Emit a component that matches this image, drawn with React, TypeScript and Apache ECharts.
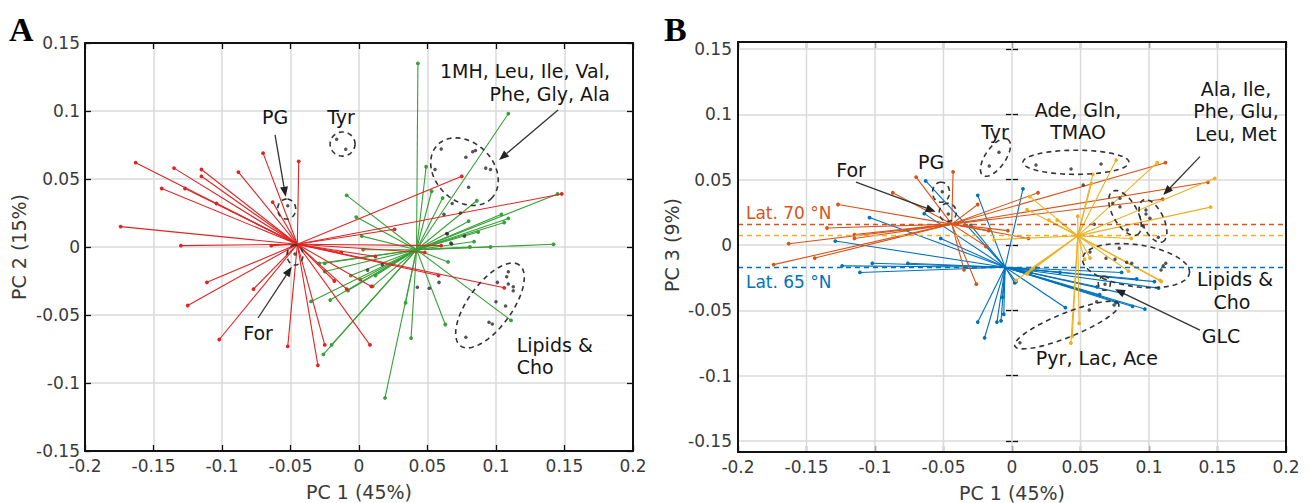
import React, { useEffect, useRef } from "react";
import * as echarts from "echarts";

// ---------------- Panel A data (PC1 vs PC2) ----------------
const redCenter = [-0.045, 0.002];
const redPts: number[][] = [
  [-0.163, 0.062], [-0.135, 0.058], [-0.115, 0.057], [-0.115, 0.052], [-0.088, 0.055],
  [-0.07, 0.069], [-0.044, 0.063], [-0.144, 0.043], [-0.127, 0.043], [-0.104, 0.032],
  [-0.063, 0.033], [-0.174, 0.015], [-0.13, 0.001], [-0.064, 0.001], [-0.111, -0.026],
  [-0.125, -0.043], [-0.077, -0.031], [-0.102, -0.068], [-0.052, -0.073], [-0.03, -0.087],
  [-0.025, -0.072], [-0.018, -0.025], [-0.009, -0.031], [-0.013, -0.004], [0.075, 0.052],
  [0.026, 0.013], [0.148, 0.039], [0.06, 0.001], [0.048, -0.004], [0.012, -0.007],
  [0.058, -0.021], [0.106, -0.03], [0.009, -0.029], [0.008, -0.072],
];
const greenCenter = [0.042, -0.002];
const greenPts: number[][] = [
  [0.043, 0.135], [0.109, 0.098], [0.049, 0.059], [0.053, 0.041], [0.061, 0.036],
  [0.086, 0.034], [0.145, 0.039], [0.104, 0.024], [0.109, 0.021], [0.106, 0.018],
  [0.08, 0.019], [0.087, 0.011], [0.084, 0.004], [0.142, 0.002], [-0.009, 0.038],
  [-0.002, 0.022], [0.002, 0.008], [0.081, 0.0], [0.096, 0.0], [0.003, -0.002],
  [-0.029, -0.012], [-0.025, -0.012], [-0.025, -0.018], [-0.006, -0.021], [0.012, -0.021],
  [0.001, -0.024], [0.01, -0.029], [-0.008, -0.032], [-0.021, -0.039], [-0.035, -0.04],
  [-0.02, -0.072], [-0.026, -0.079], [0.034, -0.041], [0.038, -0.067], [0.065, -0.011],
  [0.063, -0.057], [0.111, -0.054], [0.019, -0.111],
];
const blackDotsA: number[][] = [
  [0.06, 0.072], [0.078, 0.066], [0.083, 0.07], [0.085, 0.071], [0.0925, 0.058], [0.096, 0.057],
  [0.08, 0.044], [0.0555, 0.057], [0.068, 0.032], [0.074, 0.025], [0.062, 0.024], [0.064, 0.01],
  [0.067, 0.003], [0.077, 0.008],
  [-0.0163, 0.0792], [-0.0097, 0.0718], [-0.052, 0.0304], [-0.0467, -0.0051],
  [0.109, -0.0182], [0.1078, -0.0218], [0.101, -0.026], [0.109, -0.0272], [0.1126, -0.0292],
  [0.1126, -0.0321], [0.1, -0.0402], [0.107, -0.0434], [0.0949, -0.0554], [0.0973, -0.0566],
  [0.078, -0.0664],
  [0.0426, -0.0296], [0.0513, -0.0304], [0.0584, -0.026], [0.0063, -0.017], [0.017, -0.013],
  [0.0645, 0.0096], [0.0676, 0.0022],
];
// ellipse: [cx, cy, semi-major, semi-minor (x-data units), angle deg]
const ellipsesA: number[][] = [
  [0.077, 0.0554, 0.0277, 0.0212, -45],
  [-0.012, 0.0757, 0.0091, 0.0088, 0],
  [-0.0528, 0.0279, 0.0073, 0.0066, 90],
  [-0.0467, -0.0059, 0.0073, 0.0058, 90],
  [0.0956, -0.043, 0.0365, 0.016, 54],
];
const labelsA = [
  { text: "1MH, Leu, Ile, Val,", x: 0.1832, y: 0.1293, align: "right" },
  { text: "Phe, Gly, Ala", x: 0.1832, y: 0.1128, align: "right" },
  { text: "PG", x: -0.0613, y: 0.0956, align: "center" },
  { text: "Tyr", x: -0.0131, y: 0.0956, align: "center" },
  { text: "For", x: -0.0737, y: -0.0632, align: "center" },
  { text: "Lipids &", x: 0.1151, y: -0.0719, align: "left" },
  { text: "Cho", x: 0.1151, y: -0.0882, align: "left" },
];
// arrow: [x1, y1, x2 (head), y2 (head)]
const arrowsA: number[][] = [
  [0.1453, 0.1007, 0.1022, 0.064],
  [-0.0613, 0.0824, -0.0535, 0.037],
  [-0.0737, -0.0522, -0.0491, -0.0145],
];

// ---------------- Panel B data (PC1 vs PC3) ----------------
const orangeCenter = [-0.044, 0.016];
const orangePts: number[][] = [
  [-0.127, 0.031], [-0.087, 0.04], [-0.07, 0.052], [-0.043, 0.056], [-0.025, 0.031],
  [-0.135, 0.013], [-0.115, 0.008], [-0.115, 0.005], [-0.163, 0.001], [-0.174, -0.015],
  [-0.144, -0.01], [-0.035, -0.019], [-0.026, -0.03], [-0.019, -0.001], [0.019, 0.04],
  [-0.017, 0.011], [-0.003, 0.011], [0.012, 0.005], [0.112, 0.063], [0.143, 0.048],
  [0.11, 0.035],
];
const blueCenter = [-0.005, -0.017];
const bluePts: number[][] = [
  [-0.063, 0.049], [-0.025, 0.038], [-0.064, 0.024], [-0.104, 0.021], [-0.129, 0.003],
  [-0.052, 0.005], [-0.124, -0.016], [-0.102, -0.014], [-0.076, -0.014], [-0.111, -0.021],
  [-0.025, -0.059], [-0.02, -0.071], [-0.008, -0.058], [-0.007, -0.04], [0.008, 0.043],
  [-0.019, -0.001], [-0.03, 0.015], [0.039, -0.048], [-0.011, -0.059], [-0.006, -0.053],
  [0.003, -0.028], [0.01, -0.021], [0.097, -0.049], [0.088, -0.047], [0.076, -0.044],
  [0.064, -0.038], [0.104, -0.028], [0.107, -0.033], [0.091, -0.026], [0.08, -0.021],
  [0.062, -0.032], [0.035, -0.021], [0.014, -0.021], [0.002, -0.029], [0.081, -0.037],
];
const yellowCenter = [0.048, 0.007];
const yellowPts: number[][] = [
  [0.076, 0.065], [0.106, 0.063], [0.148, 0.051], [0.145, 0.029], [0.059, 0.054],
  [0.058, 0.047], [0.048, 0.022], [0.013, 0.037], [0.011, 0.027], [0.027, 0.019],
  [0.087, 0.005], [0.057, -0.01], [0.085, -0.02], [0.108, -0.027], [0.049, -0.06],
  [0.044, -0.07], [0.033, 0.019], [0.109, -0.028], [0.053, -0.011], [0.043, -0.075],
  [0.003, -0.027], [0.014, -0.018], [0.011, -0.022], [-0.013, 0.004],
];
const blackDotsB: number[][] = [
  [0.0175, 0.0613], [0.0431, 0.0582], [0.065, 0.062],
  [-0.0095, 0.071], [-0.0166, 0.0605], [-0.0509, 0.0408], [-0.0465, 0.0237],
  [0.0788, 0.0358], [0.0788, 0.0293], [0.0735, 0.0319], [0.0978, 0.0268], [0.0978, 0.0237],
  [0.1007, 0.0204], [0.1068, 0.0059], [0.0958, 0.0145], [0.0842, 0.0115],
  [0.0686, -0.0102], [0.0752, -0.0109], [0.0837, -0.0132], [0.0874, -0.014], [0.1104, -0.0158],
  [0.1088, -0.0191], [0.1122, -0.014], [0.0569, -0.0054],
  [0.0679, -0.0301],
  [0.0058, -0.0748], [0.0564, -0.0498], [0.0618, -0.0434], [0.0745, -0.0459],
  [0.052, 0.0459], [0.0601, 0.0158], [0.0783, -0.0025],
];
const ellipsesB: number[][] = [
  [-0.0121, 0.067, 0.016, 0.0073, 55],
  [0.0467, 0.0633, 0.0387, 0.0088, 0],
  [-0.0518, 0.0404, 0.0073, 0.0062, 90],
  [-0.0469, 0.025, 0.0066, 0.0062, 90],
  [0.0825, 0.0245, 0.0182, 0.0088, -60],
  [0.1029, 0.0184, 0.0168, 0.008, -65],
  [0.0905, -0.0158, 0.0394, 0.0153, -8],
  [0.0674, -0.0293, 0.0051, 0.0044, 90],
  [0.04, -0.0613, 0.0409, 0.0088, 22],
];
const latValues = [0.0158, 0.0071, -0.0168]; // Lat. 70 °N, (yellow), Lat. 65 °N
const labelsB = [
  { text: "For", x: -0.1175, y: 0.0574, align: "center" },
  { text: "PG", x: -0.0591, y: 0.0633, align: "center" },
  { text: "Tyr", x: -0.0124, y: 0.0868, align: "center" },
  { text: "Ade, Gln,", x: 0.0482, y: 0.1034, align: "center" },
  { text: "TMAO", x: 0.0482, y: 0.0866, align: "center" },
  { text: "Ala, Ile,", x: 0.1635, y: 0.1192, align: "center" },
  { text: "Phe, Glu,", x: 0.1635, y: 0.1022, align: "center" },
  { text: "Leu, Met", x: 0.1635, y: 0.0852, align: "center" },
  { text: "Lipids &", x: 0.1628, y: -0.0264, align: "center" },
  { text: "Cho", x: 0.1606, y: -0.0436, align: "center" },
  { text: "GLC", x: 0.1526, y: -0.0697, align: "center" },
  { text: "Pyr, Lac, Ace", x: 0.062, y: -0.0868, align: "center" },
  { text: "Lat. 70 °N", x: -0.1942, y: 0.0247, align: "left", color: "#D95319", small: true },
  { text: "Lat. 65 °N", x: -0.1942, y: -0.0281, align: "left", color: "#0072BD", small: true },
];
const arrowsB: number[][] = [
  [-0.1139, 0.0482, -0.0557, 0.0255],
  [0.1372, 0.0676, 0.1104, 0.0383],
  [0.1372, -0.0651, 0.0752, -0.0339],
];

const xTicks = [-0.2, -0.15, -0.1, -0.05, 0, 0.05, 0.1, 0.15, 0.2];

const RED = "#e02424";
const GREEN = "#36a136";
const ORANGE = "#D95319";
const BLUE = "#0072BD";
const YELLOW = "#EDB120";
const FONT = '"DejaVu Sans", Verdana, sans-serif';
const ANN_FONT = '19px "DejaVu Sans", Verdana, sans-serif';
const LAT_FONT = '17px "DejaVu Sans", Verdana, sans-serif';

const fmt = (v: number) => String(Math.round(v * 100) / 100);

function starSeries(center: number[], pts: number[][], color: string, xi: number, yi: number, z: number) {
  return {
    type: "custom",
    xAxisIndex: xi,
    yAxisIndex: yi,
    z,
    data: pts,
    encode: { x: 0, y: 1 },
    renderItem: (params: any, api: any) => {
      const c = api.coord(center);
      const p = api.coord([api.value(0), api.value(1)]);
      return {
        type: "group",
        children: [
          { type: "line", shape: { x1: c[0], y1: c[1], x2: p[0], y2: p[1] }, style: { stroke: color, lineWidth: 1.1 } },
          { type: "circle", shape: { cx: p[0], cy: p[1], r: 1.9 }, style: { fill: color } },
        ],
      };
    },
  };
}

function dotSeries(pts: number[][], xi: number, yi: number) {
  return {
    type: "scatter",
    xAxisIndex: xi,
    yAxisIndex: yi,
    z: 4,
    symbolSize: 3.5,
    itemStyle: { color: "#2a2a2a" },
    data: pts,
  };
}

function ellipseSeries(list: number[][], xi: number, yi: number) {
  return {
    type: "custom",
    xAxisIndex: xi,
    yAxisIndex: yi,
    z: 5,
    data: list.map((e) => [e[0], e[1]]),
    encode: { x: 0, y: 1 },
    renderItem: (params: any, api: any) => {
      const e = list[params.dataIndex];
      const c = api.coord([e[0], e[1]]);
      const a = api.size([e[2], 0])[0];
      const b = api.size([e[3], 0])[0];
      const t = (e[4] * Math.PI) / 180;
      const pts: number[][] = [];
      const n = 90;
      for (let i = 0; i <= n; i++) {
        const phi = (2 * Math.PI * i) / n;
        const dx = a * Math.cos(phi);
        const dy = b * Math.sin(phi);
        pts.push([c[0] + dx * Math.cos(t) - dy * Math.sin(t), c[1] - (dx * Math.sin(t) + dy * Math.cos(t))]);
      }
      return {
        type: "polyline",
        shape: { points: pts },
        style: { stroke: "#333", lineWidth: 1.6, lineDash: [5, 4], fill: "none" },
      };
    },
  };
}

function labelSeries(list: any[], xi: number, yi: number) {
  return {
    type: "custom",
    xAxisIndex: xi,
    yAxisIndex: yi,
    z: 7,
    data: list.map((l) => [l.x, l.y]),
    encode: { x: 0, y: 1 },
    renderItem: (params: any, api: any) => {
      const l = list[params.dataIndex];
      const p = api.coord([l.x, l.y]);
      return {
        type: "text",
        x: p[0],
        y: p[1],
        style: {
          text: l.text,
          fill: l.color || "#151515",
          font: l.small ? LAT_FONT : ANN_FONT,
          align: l.align,
          verticalAlign: "middle",
        },
      };
    },
  };
}

function arrowSeries(list: number[][], xi: number, yi: number) {
  return {
    type: "custom",
    xAxisIndex: xi,
    yAxisIndex: yi,
    z: 8,
    data: list,
    encode: { x: 0, y: 1 },
    renderItem: (params: any, api: any) => {
      const p1 = api.coord([api.value(0), api.value(1)]);
      const p2 = api.coord([api.value(2), api.value(3)]);
      const dx = p2[0] - p1[0];
      const dy = p2[1] - p1[1];
      const L = Math.hypot(dx, dy) || 1;
      const ux = dx / L;
      const uy = dy / L;
      const hl = 10;
      const hw = 4;
      const bx = p2[0] - ux * hl;
      const by = p2[1] - uy * hl;
      return {
        type: "group",
        children: [
          { type: "line", shape: { x1: p1[0], y1: p1[1], x2: bx, y2: by }, style: { stroke: "#333", lineWidth: 1.3 } },
          {
            type: "polygon",
            shape: { points: [[p2[0], p2[1]], [bx - uy * hw, by + ux * hw], [bx + uy * hw, by - ux * hw]] },
            style: { fill: "#222" },
          },
        ],
      };
    },
  };
}

function gridExtSeries(xi: number, yi: number) {
  return {
    type: "custom",
    xAxisIndex: xi,
    yAxisIndex: yi,
    z: 1,
    silent: true,
    data: xTicks.map((v) => [v, 0]),
    encode: { x: 0, y: 1 },
    renderItem: (params: any, api: any) => {
      const p = api.coord([api.value(0), 0]);
      const cs = params.coordSys;
      return {
        type: "line",
        shape: { x1: p[0], y1: cs.y - 7, x2: p[0], y2: cs.y + cs.height + 11 },
        style: { stroke: "#dadada", lineWidth: 1.5 },
      };
    },
  };
}

export default function App() {
  const ref = useRef<HTMLDivElement>(null);
  useEffect(() => {
    if (!ref.current) return;
    const chart = echarts.init(ref.current, null, { renderer: "svg" });
    const tick = { show: true, inside: true, length: 6, lineStyle: { color: "#111", width: 1.3 } };
    const axisLine = { show: true, onZero: false, lineStyle: { color: "#111", width: 2 } };
    const split = { show: true, lineStyle: { color: "#dadada", width: 1.5 } };
    const label = { color: "#3a3a3a", fontSize: 17, fontFamily: FONT, formatter: fmt };
    const nameStyle = { color: "#3a3a3a", fontSize: 19, fontFamily: FONT };
    const xBase = { type: "value", min: -0.2, max: 0.2, interval: 0.05 };
    const yBase = { type: "value", min: -0.15, max: 0.15, interval: 0.05 };

    const option: any = {
      animation: false,
      backgroundColor: "#fff",
      grid: [
        { left: 85, top: 43, width: 548, height: 408, outerBoundsMode: "none" },
        { left: 738, top: 49, width: 548, height: 392, outerBoundsMode: "none" },
      ],
      xAxis: [
        {
          ...xBase, gridIndex: 0, position: "bottom", axisLine, axisTick: tick,
          axisLabel: { ...label, margin: 6 }, splitLine: split,
          name: "PC 1 (45%)", nameLocation: "middle", nameGap: 31, nameTextStyle: nameStyle,
        },
        { ...xBase, gridIndex: 0, position: "top", axisLine, axisTick: tick, axisLabel: { show: false }, splitLine: { show: false } },
        {
          ...xBase, gridIndex: 1, position: "bottom", offset: 11, axisLine, axisTick: tick,
          axisLabel: { ...label, margin: 6 }, splitLine: { show: false },
          name: "PC 1 (45%)", nameLocation: "middle", nameGap: 31, nameTextStyle: nameStyle,
        },
        { ...xBase, gridIndex: 1, position: "top", offset: 7, axisLine, axisTick: tick, axisLabel: { show: false }, splitLine: { show: false } },
      ],
      yAxis: [
        {
          ...yBase, gridIndex: 0, position: "left", axisLine, axisTick: tick,
          axisLabel: { ...label, margin: 5 }, splitLine: split,
          name: "PC 2 (15%)", nameLocation: "middle", nameGap: 57, nameTextStyle: nameStyle,
        },
        { ...yBase, gridIndex: 0, position: "right", axisLine, axisTick: tick, axisLabel: { show: false }, splitLine: { show: false } },
        {
          ...yBase, gridIndex: 1, position: "left", axisLine: { show: false }, axisTick: tick,
          axisLabel: { ...label, margin: 6 }, splitLine: split,
          name: "PC 3 (9%)", nameLocation: "middle", nameGap: 57, nameTextStyle: nameStyle,
        },
        { ...yBase, gridIndex: 1, position: "right", axisLine: { show: false }, axisTick: tick, axisLabel: { show: false }, splitLine: { show: false } },
      ],
      graphic: [
        { type: "rect", z: 100, shape: { x: 738, y: 42, width: 548, height: 410 }, style: { fill: "none", stroke: "#111", lineWidth: 2 } },
        { type: "text", z: 100, x: 9, y: 12, style: { text: "A", font: 'bold 34px "Liberation Serif", "Times New Roman", serif', fill: "#000" } },
        { type: "text", z: 100, x: 664, y: 12, style: { text: "B", font: 'bold 34px "Liberation Serif", "Times New Roman", serif', fill: "#000" } },
      ],
      series: [
        // Panel A
        starSeries(greenCenter, greenPts, GREEN, 0, 0, 2),
        starSeries(redCenter, redPts, RED, 0, 0, 3),
        dotSeries(blackDotsA, 0, 0),
        ellipseSeries(ellipsesA, 0, 0),
        labelSeries(labelsA, 0, 0),
        arrowSeries(arrowsA, 0, 0),
        // Panel B
        gridExtSeries(2, 2),
        {
          ...starSeries(blueCenter, bluePts, BLUE, 2, 2, 2),
          markLine: {
            silent: true,
            precision: 4,
            symbol: ["none", "none"],
            label: { show: false },
            data: [
              { yAxis: latValues[0], lineStyle: { color: ORANGE, type: [5, 4], width: 1.3 } },
              { yAxis: latValues[1], lineStyle: { color: YELLOW, type: [5, 4], width: 1.3 } },
              { yAxis: latValues[2], lineStyle: { color: BLUE, type: [5, 4], width: 1.3 } },
            ],
          },
        },
        starSeries(orangeCenter, orangePts, ORANGE, 2, 2, 3),
        starSeries(yellowCenter, yellowPts, YELLOW, 2, 2, 3),
        dotSeries(blackDotsB, 2, 2),
        ellipseSeries(ellipsesB, 2, 2),
        labelSeries(labelsB, 2, 2),
        arrowSeries(arrowsB, 2, 2),
      ],
    };
    chart.setOption(option);
    return () => chart.dispose();
  }, []);
  return (
    <div
      ref={ref}
      style={{ position: "fixed", left: 0, top: 0, width: 1309, height: 503, background: "#fff" }}
    />
  );
}
